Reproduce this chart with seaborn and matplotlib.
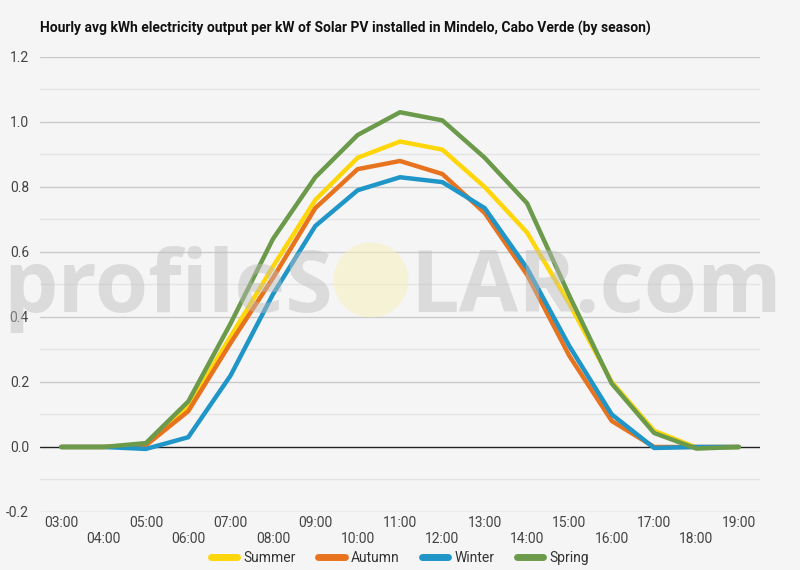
import pandas as pd
import matplotlib.pyplot as plt
import matplotlib.patches as mpatches
import seaborn as sns

# Hourly avg kWh output per kW installed, Mindelo, by season
hours = list(range(3, 20))
hour_labels = ['%02d:00' % h for h in hours]

summer = [0.0, 0.0, 0.008, 0.125, 0.34, 0.555, 0.76, 0.89, 0.94, 0.915, 0.80, 0.66, 0.44, 0.20, 0.05, -0.002, 0.0]
autumn = [0.0, 0.0, 0.005, 0.11, 0.32, 0.52, 0.735, 0.855, 0.88, 0.84, 0.72, 0.53, 0.28, 0.08, 0.0, 0.0, 0.0]
winter = [0.0, 0.0, -0.006, 0.03, 0.22, 0.47, 0.68, 0.79, 0.83, 0.815, 0.735, 0.55, 0.31, 0.10, -0.003, 0.0, 0.0]
spring = [0.0, 0.0, 0.012, 0.14, 0.38, 0.64, 0.83, 0.96, 1.03, 1.005, 0.89, 0.75, 0.465, 0.195, 0.043, -0.005, 0.0]

seasons = ['Summer', 'Autumn', 'Winter', 'Spring']
colors = ['#FFD60A', '#E8731E', '#1F95C8', '#6C9A4B']

df = pd.DataFrame({
    'hour': hours * 4,
    'kwh': summer + autumn + winter + spring,
    'season': [s for s in seasons for _ in hours],
})

sns.set_style('white')
plt.rcParams['font.family'] = ['Roboto', 'DejaVu Sans']
bg = '#F5F5F5'

fig = plt.figure(figsize=(8, 5.7), dpi=100, facecolor=bg)
ax = fig.add_axes([0.05, 0.1018, 0.9, 0.7982])
ax.set_facecolor(bg)

sns.lineplot(data=df, x='hour', y='kwh', hue='season', hue_order=seasons,
             palette=colors, linewidth=3.2, ax=ax, zorder=3)

# Gridlines: darker every 0.2, lighter in between, black zero line
ax.set_ylim(-0.2, 1.2)
ax.set_xlim(2.5, 19.5)
for i in range(-2, 13):
    y = i / 10
    if i == 0:
        ax.axhline(0, color='#222222', lw=1.0, zorder=2)
    elif i % 2 == 0:
        ax.axhline(y, color='#CACACA', lw=1.0, zorder=1)
    else:
        ax.axhline(y, color='#E4E4E4', lw=1.0, zorder=1)

for s in ax.spines.values():
    s.set_visible(False)

ax.set_yticks([i / 10 for i in range(-2, 13, 2)])
ax.set_yticklabels(['%.1f' % (i / 10) for i in range(-2, 13, 2)])
ax.set_xticks(hours)
ax.set_xticklabels([lab if k % 2 == 0 else '\n' + lab for k, lab in enumerate(hour_labels)])
ax.tick_params(axis='both', length=0, labelsize=10, colors='#444444')
ax.tick_params(axis='y', pad=8)
ax.tick_params(axis='x', pad=3)
ax.set_xlabel('')
ax.set_ylabel('')

# Title
fig.text(0.05, 1 - 28 / 570, 'Hourly avg kWh electricity output per kW of Solar PV installed in Mindelo, Cabo Verde (by season)',
         fontsize=10, fontweight='bold', color='#111111', ha='left', va='center')

# Legend
handles, labels = ax.get_legend_handles_labels()
ax.legend(handles, labels, loc='center', bbox_to_anchor=(0.5, 1 - 558 / 570), bbox_transform=fig.transFigure,
          ncol=4, frameon=False, fontsize=10, handlelength=1.9, columnspacing=1.6, handletextpad=0.45,
          labelcolor='#333333')
for h in ax.get_legend().get_lines():
    h.set_linewidth(5)

# Watermark
base_y = 1 - 312 / 570
fig.text(333 / 800, base_y, 'profileS', fontsize=62, fontweight='bold', family='Open Sans',
         color='#BDBDBD', alpha=0.45, ha='right', va='baseline', zorder=10)
fig.text(410 / 800, base_y, 'LAR.com', fontsize=62, fontweight='bold', family='Open Sans',
         color='#BDBDBD', alpha=0.45, ha='left', va='baseline', zorder=10)
sun = mpatches.Ellipse((371 / 800, 1 - 280 / 570), 75 / 800, 75 / 570, transform=fig.transFigure,
                       facecolor='#F8F0BE', edgecolor='none', alpha=0.55, zorder=10)
fig.patches.append(sun)

plt.savefig('out.png', dpi=100, facecolor=bg)
